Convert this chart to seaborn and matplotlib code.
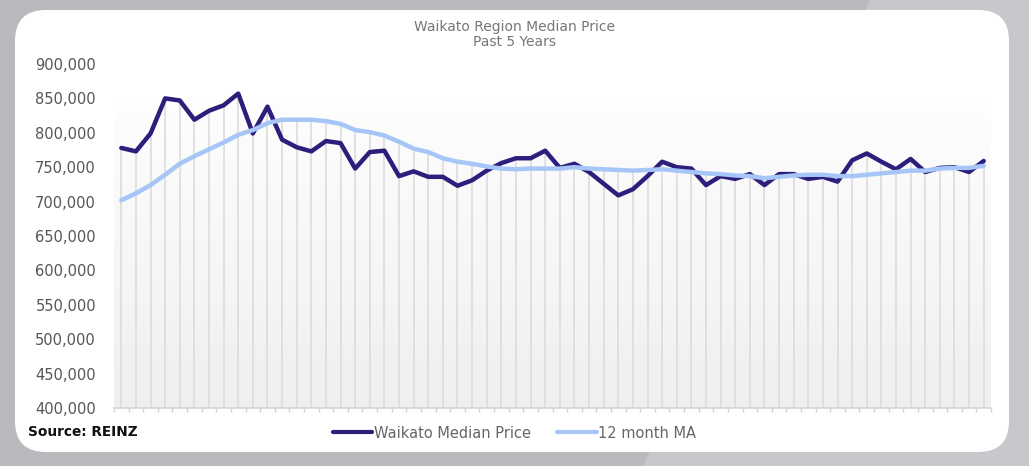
import numpy as np
import pandas as pd
import matplotlib
matplotlib.use("Agg")
import matplotlib.pyplot as plt
from matplotlib.patches import FancyBboxPatch, Polygon
from matplotlib.ticker import FuncFormatter
import seaborn as sns

# Monthly values (60 months)
median_price = [778000, 773000, 799000, 850000, 847000, 819000, 832000, 840000, 857000, 799000,
                838000, 790000, 779000, 773000, 788000, 785000, 748000, 772000, 774000, 737000,
                744000, 736000, 736000, 723000, 731000, 745000, 756000, 763000, 763000, 774000,
                749000, 755000, 743000, 726000, 709000, 718000, 737000, 758000, 750000, 748000,
                724000, 737000, 733000, 740000, 724000, 740000, 740000, 733000, 736000, 729000,
                760000, 770000, 758000, 747000, 762000, 743000, 749000, 750000, 743000, 759000]
moving_avg = [702000, 712000, 724000, 739000, 755000, 766000, 776000, 786000, 797000, 804000,
              814000, 819000, 819000, 819000, 817000, 813000, 804000, 801000, 796000, 787000,
              777000, 772000, 763000, 758000, 755000, 751000, 748000, 747000, 748000, 748000,
              748000, 750000, 748000, 747000, 746000, 745000, 746000, 747000, 745000, 743000,
              741000, 740000, 738000, 737000, 734000, 736000, 738000, 739000, 739000, 737000,
              737000, 739000, 741000, 743000, 745000, 745000, 748000, 749000, 749000, 752000]
series_names = ["Waikato Median Price", "12 month MA"]
y_ticks = [400000, 450000, 500000, 550000, 600000, 650000, 700000, 750000, 800000, 850000, 900000]

month = np.arange(len(median_price))
df = pd.DataFrame({
    "month": np.concatenate([month, month]),
    "price": median_price + moving_avg,
    "series": [series_names[0]] * len(month) + [series_names[1]] * len(month),
})

sns.set_theme(style="white")
plt.rcParams["font.family"] = ["DejaVu Sans"]

fig = plt.figure(figsize=(10.29, 4.66), dpi=100)
fig.patch.set_facecolor("#b9b9be")

# lighter diagonal band on the background, then the white card
fig.patches.append(Polygon([(870 / 1029, 1), (1, 1), (1, 0), (643 / 1029, 0)], closed=True,
                           transform=fig.transFigure, facecolor="#c8c8cc", edgecolor="none", zorder=-2))
fig.patches.append(FancyBboxPatch((15 / 1029, 14 / 466), 994 / 1029, 442 / 466,
                                  boxstyle="round,pad=0,rounding_size=0.03",
                                  mutation_aspect=1029 / 466,
                                  transform=fig.transFigure, facecolor="white",
                                  edgecolor="none", zorder=-1))

ax = fig.add_axes([114 / 1029, 1 - 408 / 466, 877 / 1029, 344 / 466])
ax.patch.set_alpha(0)

# soft vertical gradient behind the plot
grad = np.linspace(0, 1, 256).reshape(-1, 1)
ax.imshow(grad, extent=(-0.5, len(month) - 0.5, 400000, 852000), aspect="auto",
          cmap=matplotlib.colors.LinearSegmentedColormap.from_list("g", ["#efefef", "#fefefe"]),
          origin="lower", zorder=0)

# drop lines from the higher series down to the axis
top = np.maximum(median_price, moving_avg)
ax.vlines(month, 400000, top, color="#dcdcdc", lw=1.2, zorder=1)

sns.lineplot(data=df, x="month", y="price", hue="series", palette=["#2d1e7c", "#a6c6f7"],
             linewidth=3.2, ax=ax, legend=False, zorder=3)

ax.set_xlim(-0.5, len(month) - 0.5)
ax.set_ylim(400000, 900000)
ax.set_yticks(y_ticks)
ax.yaxis.set_major_formatter(FuncFormatter(lambda v, p: f"{int(v):,}"))
ax.set_xticks(np.arange(-0.5, len(month), 1))
ax.set_xticklabels([])
ax.tick_params(axis="x", bottom=True, length=3, color="#d0d0d0", width=1)
ax.tick_params(axis="y", left=False, pad=7, labelsize=10.5, labelcolor="#555555")
ax.set_xlabel("")
ax.set_ylabel("")
for s in ["top", "right", "left"]:
    ax.spines[s].set_visible(False)
ax.spines["bottom"].set_color("#d6d6d6")

fig.text(0.5, 1 - 27 / 466, "Waikato Region Median Price", ha="center", va="center",
         fontsize=10, color="#777777", zorder=5)
fig.text(0.5, 1 - 42 / 466, "Past 5 Years", ha="center", va="center",
         fontsize=10, color="#777777", zorder=5)
fig.text(28 / 1029, 1 - 432 / 466, "Source: REINZ", ha="left", va="center",
         fontsize=9.8, weight="bold", color="#111111", zorder=5)

handles = [plt.Line2D([], [], color="#2d1e7c", lw=3),
           plt.Line2D([], [], color="#a6c6f7", lw=3)]
leg = fig.legend(handles, series_names, loc="center", bbox_to_anchor=(0.5, 1 - 433 / 466),
                 ncol=2, frameon=False, fontsize=10.5, handlelength=2.7, handletextpad=0.1,
                 columnspacing=1.8)
for t in leg.get_texts():
    t.set_color("#666666")
leg.set_zorder(5)

fig.savefig("out.png", dpi=100, facecolor=fig.get_facecolor())
